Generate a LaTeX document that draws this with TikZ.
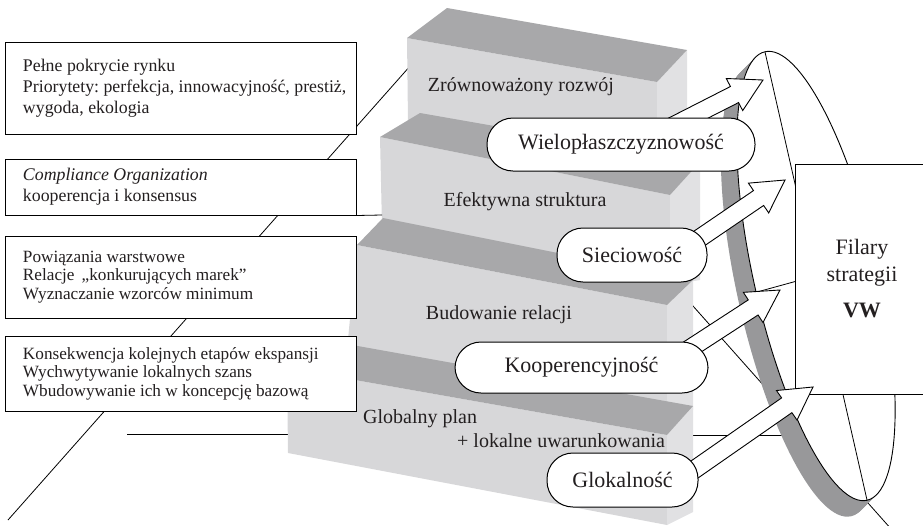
\documentclass[tikz,border=0pt]{standalone}
\usepackage{fontspec}
\setmainfont{Liberation Serif}
\usetikzlibrary{calc}
\definecolor{stepTop}{HTML}{A8A8AA}
\definecolor{stepFront}{HTML}{D7D7D9}
\definecolor{stepSide}{HTML}{E1E1E3}
\definecolor{rimgray}{HTML}{98989A}
\definecolor{inkcolor}{HTML}{231F20}

% hollow block arrow: #1 tail, #2 tip
\newcommand{\blockarrow}[2]{%
  \coordinate (hb) at ($(#2)!32pt!(#1)$);
  \draw[blockarr] ($(#1)!9pt!90:(#2)$) -- ($(hb)!9pt!90:(#2)$) -- ($(hb)!18pt!90:(#2)$)
    -- (#2) -- ($(hb)!18pt!-90:(#2)$) -- ($(hb)!9pt!-90:(#2)$) -- ($(#1)!9pt!-90:(#2)$) -- cycle;
}

\begin{document}
\frenchspacing
\begin{tikzpicture}[
    x=1pt, y=-1pt,
    every node/.style={text=inkcolor},
    infobox/.style={
        draw, fill=white, line width=1pt, minimum width=351pt,
        text width=315pt, inner xsep=18pt, inner ysep=0pt, align=flush left,
        font=\fontsize{17.8}{21}\selectfont,
    },
    pill/.style={
        draw, fill=white, line width=1pt, rounded corners=26pt,
        minimum height=53pt, inner sep=0pt, font=\fontsize{22}{26}\selectfont,
    },
    steplab/.style={font=\fontsize{20}{24}\selectfont, inner sep=0pt},
    blockarr/.style={draw=black, fill=white, line width=0.9pt, line join=miter},
    guide/.style={line width=0.8pt, color=black},
]
\useasboundingbox (0,0) rectangle (923,525);
\clip (0,0) rectangle (923,525);

% ---------------------------------------------------------------- guide lines behind
\draw[guide] (8,520) -- (411,65);
\draw[guide] (127,434) -- (290,434);
\draw[guide] (685,297) -- (892,530);
\draw[guide] (690,336) -- (725,336);
\draw[guide] (690,435) -- (790,435);

% ---------------------------------------------------------------- stairs
% step 1
\fill[stepFront] (407,38) -- (657,82) -- (657,170) -- (408,123) -- cycle;
\fill[stepSide] (657,82) -- (687,50) -- (687,170) -- (657,170) -- cycle;
\fill[stepTop] (447,8) -- (687,50) -- (657,82) -- (407,38) -- cycle;
% step 2
\fill[stepFront] (380,137) -- (670,195) -- (670,285) -- (382,227) -- cycle;
\fill[stepSide] (670,195) -- (700,162) -- (700,280) -- (670,285) -- cycle;
\fill[stepTop] (420,113) -- (700,162) -- (670,195) -- (380,137) -- cycle;
% step 3
\fill[stepFront] (357,245) -- (667,305) -- (667,410) -- (347,350) -- cycle;
\fill[stepSide] (667,305) -- (693,280) -- (693,410) -- (667,410) -- cycle;
\fill[stepTop] (383,218) -- (693,280) -- (667,305) -- (357,245) -- cycle;
% step 4
\fill[stepFront] (287,368) -- (667,435) -- (667,525) -- (288,453) -- cycle;
\fill[stepSide] (667,435) -- (693,406) -- (693,512) -- (667,525) -- cycle;
\fill[stepTop] (313,338) -- (693,406) -- (667,435) -- (287,368) -- cycle;

\node[steplab] (zrow) at (521,87) {Zrównoważony rozwój};
\node[steplab] (efekt) at (525,202) {Efektywna struktura};
\node[steplab] (budow) at (499,315) {Budowanie relacji};
\node[steplab, anchor=west] (global) at (363,419) {Globalny plan};
\node[steplab, anchor=west] (lokal) at (457,441) {+ lokalne uwarunkowania};

% ---------------------------------------------------------------- left boxes
\node[infobox, minimum height=92pt] (rynek) at (180.5,88)
    {Pełne pokrycie rynku\\ \mbox{Priorytety: perfekcja, innowacyjność, prestiż,}\\ wygoda, ekologia};
\node[infobox, minimum height=56pt] (compl) at (180.5,187)
    {\textit{Compliance Organization}\\ kooperencja i konsensus};
\node[infobox, minimum height=82pt, font=\fontsize{17.2}{18.5}\selectfont] (powiaz) at (180.5,277)
    {Powiązania warstwowe\\ Relacje \,„konkurujących marek”\\ Wyznaczanie wzorców minimum};
\node[infobox, minimum height=75pt, font=\fontsize{17.2}{18.5}\selectfont] (konsek) at (180.5,373.5)
    {Konsekwencja kolejnych etapów ekspansji\\ Wychwytywanie lokalnych szans\\ Wbudowywanie ich w koncepcję bazową};
\draw[guide] (compl.south east) -- (382,215);

% ---------------------------------------------------------------- disc
\coordinate (disc) at (816,276);
\foreach \s in {0,1,...,16}{
    \fill[rimgray] ($(disc)+(-\s,\s)$) circle [x radius=62, y radius=230, rotate=12.83];
}
\draw[fill=white, line width=0.9pt] (disc) circle [x radius=62, y radius=230, rotate=12.83];
\coordinate (disctop) at (765,52);
\coordinate (discbot) at (867,500);
\draw[guide] (disctop) -- (discbot);
\draw[guide] (757,292) -- (797,281);

\node[draw, fill=white, line width=1pt, minimum width=134pt, minimum height=230pt,
      align=center, font=\fontsize{22}{27}\selectfont] (filary) at (862,279)
    {Filary\\ strategii\\[9pt] \textbf{VW}};

% ---------------------------------------------------------------- pills and arrows
\coordinate (tip1) at (763,80);
\coordinate (tip2) at (785,180);
\coordinate (tip3) at (780,290);
\coordinate (tip4) at (813,387);

\coordinate (t1) at (663,131);
\coordinate (t2) at (672,257);
\coordinate (t3) at (660,368);
\coordinate (t4) at (655,497);

\blockarrow{t1}{tip1}
\blockarrow{t2}{tip2}
\blockarrow{t3}{tip3}
\blockarrow{t4}{tip4}

\node[pill, minimum width=268pt] (wiel) at (621,144.5) {Wielopłaszczyznowość};
\node[pill, minimum width=150pt, minimum height=54pt] (siec) at (632,255) {Sieciowość};
\node[pill, minimum width=253pt, minimum height=51pt] (koop) at (581.5,367.5) {Kooperencyjność};
\node[pill, minimum width=151pt, minimum height=54pt] (glok) at (622.5,480) {Glokalność};

\end{tikzpicture}
\end{document}
